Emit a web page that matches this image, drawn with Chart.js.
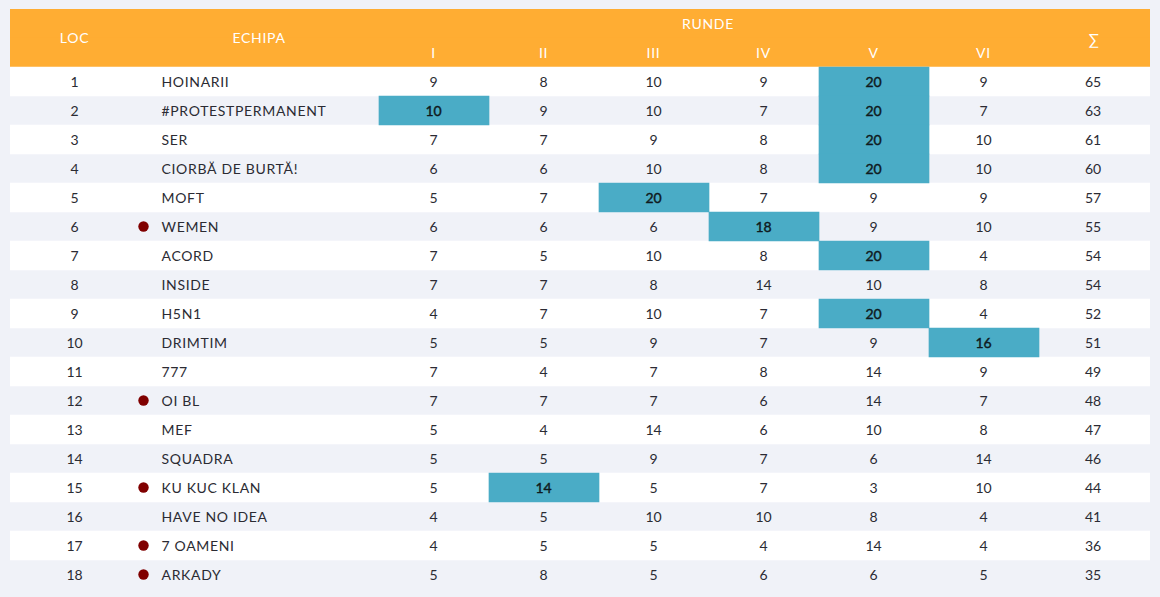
<!DOCTYPE html>
<html>

<head>
    <title>Clasament</title>
    <script src="https://cdn.jsdelivr.net/npm/chart.js"></script>
    <style>
        html, body { margin: 0; padding: 0; background: #f0f2f8; }
        .chart-container { width: 1160px; height: 597px; }
    </style>
</head>

<body>
    <div class="chart-container">
        <canvas id="standings" width="1160" height="597"></canvas>
    </div>

    <script>
        const places = ['1', '2', '3', '4', '5', '6', '7', '8', '9', '10', '11', '12', '13', '14', '15', '16', '17', '18'];
        const teams = ['HOINARII', '#PROTESTPERMANENT', 'SER', 'CIORBĂ DE BURTĂ!', 'MOFT', 'WEMEN', 'ACORD', 'INSIDE', 'H5N1',
            'DRIMTIM', '777', 'OI BL', 'MEF', 'SQUADRA', 'KU KUC KLAN', 'HAVE NO IDEA', '7 OAMENI', 'ARKADY'];
        const roundI = [9, 10, 7, 6, 5, 6, 7, 7, 4, 5, 7, 7, 5, 5, 5, 4, 4, 5];
        const roundII = [8, 9, 7, 6, 7, 6, 5, 7, 7, 5, 4, 7, 4, 5, 14, 5, 5, 8];
        const roundIII = [10, 10, 9, 10, 20, 6, 10, 8, 10, 9, 7, 7, 14, 9, 5, 10, 5, 5];
        const roundIV = [9, 7, 8, 8, 7, 18, 8, 14, 7, 7, 8, 6, 6, 7, 7, 10, 4, 6];
        const roundV = [20, 20, 20, 20, 9, 9, 20, 10, 20, 9, 14, 14, 10, 6, 3, 8, 14, 6];
        const roundVI = [9, 7, 10, 10, 9, 10, 4, 8, 4, 16, 9, 7, 8, 14, 10, 4, 4, 5];
        const totals = [65, 63, 61, 60, 57, 55, 54, 54, 52, 51, 49, 48, 47, 46, 44, 41, 36, 35];
        const roundLabels = ['I', 'II', 'III', 'IV', 'V', 'VI'];
        const rounds = [roundI, roundII, roundIII, roundIV, roundV, roundVI];

        // highlighted cells, as place + round index
        const jokerPlaces = ['1', '2', '2', '3', '4', '5', '6', '7', '9', '10', '15'];
        const jokerRounds = [4, 0, 4, 4, 4, 2, 3, 4, 4, 5, 1];
        // places that get the red dot
        const dotPlaces = ['6', '12', '15', '17', '18'];

        const roundEdges = [379, 489, 599, 709, 819, 929, 1039];
        const tableLeft = 10, tableRight = 1150;
        const headerRows = ['h1', 'h2'];

        const BG = '#f0f2f8', ORANGE = '#ffad33', BLUE = '#4aacc6', RED = '#800000', INK = '#2b2b33', JOKER_INK = '#0f1a20';
        const FONT = 'Lato, sans-serif';

        const canvas = document.getElementById('standings');
        const ctx = canvas.getContext('2d', { alpha: false });

        const tableText = {
            id: 'tableText',
            afterDatasetsDraw(chart) {
                const c = chart.ctx, x = chart.scales.x, y = chart.scales.y;
                const put = (text, xv, yPix, font, color, align, spacing) => {
                    c.font = font;
                    c.fillStyle = color;
                    c.textAlign = align || 'center';
                    c.textBaseline = 'middle';
                    c.letterSpacing = spacing || '0px';
                    c.fillText(text, x.getPixelForValue(xv), yPix);
                };
                const body = '14px ' + FONT;
                c.save();

                // header
                const top = y.getPixelForValue('h1'), low = y.getPixelForValue('h2');
                const mid = (top + low) / 2;
                put('LOC', 74.5, mid, body, '#fff', 'center', '0.7px');
                put('ECHIPA', 259, mid, body, '#fff', 'center', '0.7px');
                put('RUNDE', 708, top + 1, body, '#fff', 'center', '0.7px');
                put('∑', 1093.5, mid + 2, '15px ' + FONT, '#fff');
                roundLabels.forEach((label, i) => {
                    put(label, (roundEdges[i] + roundEdges[i + 1]) / 2 - 0.5, low + 1, body, '#fff', 'center', '0.7px');
                });

                // rows
                places.forEach((place, r) => {
                    const py = y.getPixelForValue(place) + 0.5;
                    put(place, 74.5, py, body, INK);
                    put(teams[r], 161.5, py, body, INK, 'left', '0.67px');
                    rounds.forEach((values, i) => {
                        const isJoker = jokerPlaces.some((p, k) => p === place && jokerRounds[k] === i);
                        const cx = (roundEdges[i] + roundEdges[i + 1]) / 2 - 0.5;
                        put(String(values[r]), cx, py, body, isJoker ? JOKER_INK : INK);
                        if (isJoker) {
                            // slightly heavier than regular, lighter than bold
                            c.strokeStyle = JOKER_INK;
                            c.lineWidth = 0.4;
                            c.strokeText(String(values[r]), x.getPixelForValue(cx), py);
                        }
                    });
                    put(String(totals[r]), 1093, py, body, INK);
                });
                c.restore();
            }
        };

        new Chart(ctx, {
            type: 'bar',
            data: {
                labels: headerRows.concat(places),
                datasets: [
                    {
                        // header block
                        data: headerRows.map(h => ({ x: [tableLeft, tableRight], y: h })),
                        backgroundColor: ORANGE,
                        order: 3
                    },
                    {
                        // white odd rows
                        data: places.filter((p, i) => i % 2 === 0).map(p => ({ x: [tableLeft, tableRight], y: p })),
                        backgroundColor: '#ffffff',
                        order: 2
                    },
                    {
                        // joker cells
                        data: jokerPlaces.map((p, k) => ({ x: [roundEdges[jokerRounds[k]], roundEdges[jokerRounds[k] + 1]], y: p })),
                        backgroundColor: BLUE,
                        order: 1
                    },
                    {
                        type: 'scatter',
                        data: dotPlaces.map(p => ({ x: 143.5, y: p })),
                        backgroundColor: RED,
                        borderColor: RED,
                        pointRadius: 5.2,
                        pointHoverRadius: 5.2,
                        borderWidth: 0,
                        order: 0
                    }
                ]
            },
            options: {
                indexAxis: 'y',
                responsive: false,
                animation: false,
                devicePixelRatio: 1,
                layout: { padding: { left: 10, right: 10, top: 9, bottom: 8 } },
                datasets: { bar: { grouped: false, barPercentage: 1, categoryPercentage: 1, borderWidth: 0 } },
                plugins: { legend: { display: false }, tooltip: { enabled: false } },
                scales: {
                    x: { type: 'linear', min: tableLeft, max: tableRight, display: false },
                    y: { type: 'category', display: false }
                }
            },
            plugins: [{
                id: 'pageBackground',
                beforeDraw(chart) {
                    chart.ctx.fillStyle = BG;
                    chart.ctx.fillRect(0, 0, chart.width, chart.height);
                }
            }, tableText]
        });
    </script>
</body>

</html>
